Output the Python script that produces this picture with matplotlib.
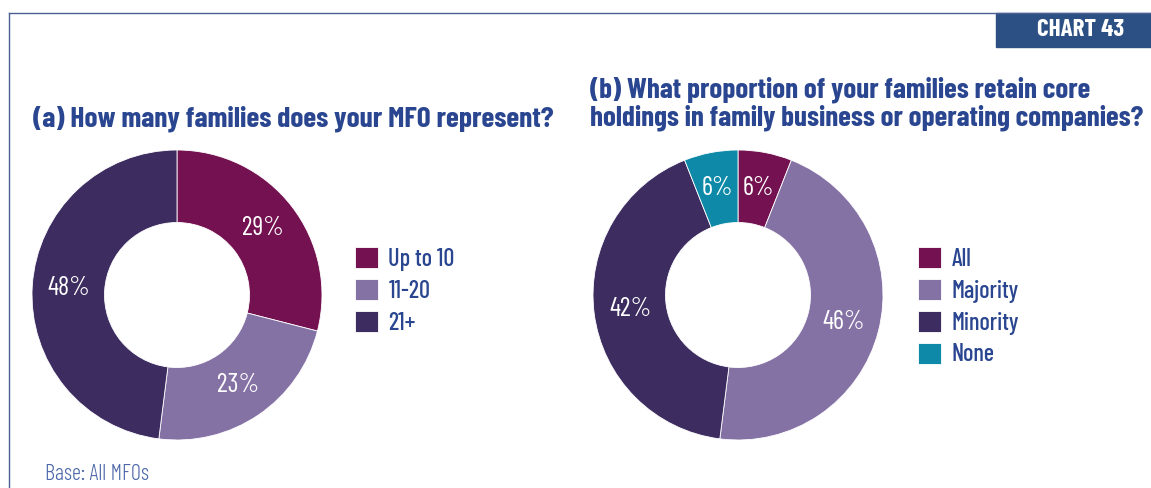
import numpy as np
import matplotlib.pyplot as plt
from matplotlib.patches import Rectangle
from matplotlib.lines import Line2D

plt.rcParams['font.family'] = ['Barlow Condensed', 'DejaVu Sans']

# (a) number of families represented
fam_labels = ["Up to 10", "11-20", "21+"]
fam_values = [29, 23, 48]
fam_colors = ["#741150", "#8572A5", "#3C2C60"]

# (b) share of families retaining core holdings
hold_labels = ["All", "Majority", "Minority", "None"]
hold_values = [6, 46, 42, 6]
hold_colors = ["#741150", "#8572A5", "#3C2C60", "#0E8AA8"]

title_color = "#2A4690"
W, H = 1151, 488

fig = plt.figure(figsize=(W / 100, H / 100), dpi=100)


def px_axes(cx, cy, r):
    return fig.add_axes([(cx - r) / W, (H - cy - r) / H, 2 * r / W, 2 * r / H])


def donut(ax, values, colors):
    wedges, _ = ax.pie(values, colors=colors, startangle=90, counterclock=False,
                       radius=1, wedgeprops=dict(width=0.5, edgecolor="white", linewidth=0.6))
    for w, v in zip(wedges, values):
        ang = np.deg2rad((w.theta1 + w.theta2) / 2)
        ax.text(0.75 * np.cos(ang), 0.75 * np.sin(ang), f"{v}%", color="white",
                ha="center", va="center", fontsize=19)
    ax.set_xlim(-1, 1)
    ax.set_ylim(-1, 1)
    ax.set_aspect("equal")
    ax.axis("off")
    return wedges


ax_a = px_axes(177, 295, 145)
wa = donut(ax_a, fam_values, fam_colors)
ax_b = px_axes(738, 295, 145)
wb = donut(ax_b, hold_values, hold_colors)

leg_kw = dict(loc="upper left", frameon=False, labelcolor=title_color,
              handlelength=0.95, handleheight=0.95, handletextpad=0.42,
              labelspacing=0.33, borderpad=0, borderaxespad=0,
              prop={"weight": 500, "size": 17.5})
fig.legend(wa, fam_labels, bbox_to_anchor=(355 / W, 1 - 247 / H), **leg_kw)
fig.legend(wb, hold_labels, bbox_to_anchor=(918 / W, 1 - 247 / H), **leg_kw)

# titles
fig.text(33 / W, 1 - 119 / H, "(a) How many families does your MFO represent?",
         color=title_color, fontsize=21.2, fontweight="bold", va="center")
fig.text(590 / W, 1 - 104 / H,
         "(b) What proportion of your families retain core\nholdings in family business or operating companies?",
         color=title_color, fontsize=20.9, fontweight="bold", va="center", linespacing=1.05)
fig.text(45 / W, 1 - 475 / H, "Base: All MFOs", color="#4A66A8", fontsize=16,
         fontweight=300, va="center")

# frame and chart tag
fig.add_artist(Line2D([9 / W, 9 / W], [0, 1 - 13 / H], color="#4A6090", linewidth=1))
fig.add_artist(Line2D([9 / W, 1], [1 - 13 / H, 1 - 13 / H], color="#4A6090", linewidth=1))
fig.add_artist(Rectangle((996 / W, 1 - 47 / H), 155 / W, 34 / H, color="#2D5084",
                         transform=fig.transFigure))
fig.text(1081 / W, 1 - 30 / H, "CHART 43", color="white", fontsize=18,
         fontweight="bold", ha="center", va="center")

fig.savefig("out.png", dpi=100)
